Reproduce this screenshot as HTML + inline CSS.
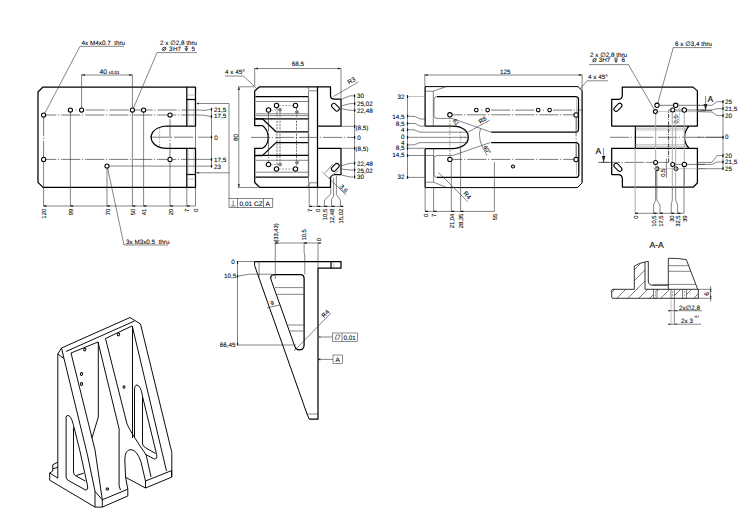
<!DOCTYPE html>
<html><head><meta charset="utf-8"><style>
html,body{margin:0;padding:0;background:#fff;}
svg{display:block;}
text{text-rendering:geometricPrecision;font-family:"Liberation Sans",sans-serif;fill:#000;stroke:#000;stroke-width:0.08;}
.k{stroke:#000;stroke-width:1.25;fill:none;stroke-linejoin:round;}
.t{stroke:#333;stroke-width:0.6;fill:none;}
.c{stroke:#333;stroke-width:0.65;fill:none;stroke-dasharray:19.2 1.6 1.2 2;}
.hd{stroke:#888;stroke-width:0.6;fill:none;stroke-dasharray:2 1.2;}
.h{stroke:#000;stroke-width:1.05;fill:#fff;}
.iso{stroke:#000;stroke-width:0.95;fill:none;stroke-linejoin:round;}
.g{stroke:#777;stroke-width:0.9;fill:none;}
.g3{stroke:#ccc;stroke-width:0.6;fill:none;}
.gk{stroke:#666;stroke-width:1.3;fill:none;}
.hd3{stroke:#777;stroke-width:1.0;fill:none;stroke-dasharray:2.2 1;}
.g4{stroke:#aaa;stroke-width:1.0;fill:none;}
.s9{stroke:#111;stroke-width:0.85;fill:none;}
.s95{stroke:#000;stroke-width:1.0;fill:none;}
.g2{stroke:#999;stroke-width:0.6;fill:none;}
.hd2{stroke:#777;stroke-width:0.7;fill:none;stroke-dasharray:2 1.2;}
.c2{stroke:#111;stroke-width:0.8;fill:none;stroke-dasharray:4 1.2 1 1.2;}
</style></head><body>
<svg width="750" height="531" viewBox="0 0 750 531">
<path d="M43,87 H195.5 V126 H166.3 C161,126.5 155,128.6 152.6,132.4 C150.9,135.3 150.9,139.3 152.6,142.2 C155,146 161,148.2 166.3,148.4 H195.5 V187.4 H43 L38,182.4 V92 Z" class="k"/>
<line x1="186.8" y1="87" x2="186.8" y2="126" class="k"/>
<line x1="186.8" y1="148.4" x2="186.8" y2="187.4" class="k"/>
<line x1="186.8" y1="99.5" x2="195.5" y2="99.5" class="k"/>
<line x1="186.8" y1="174.5" x2="195.5" y2="174.5" class="k"/>
<line x1="186.8" y1="95" x2="195.5" y2="95" class="g2"/>
<line x1="186.8" y1="179" x2="195.5" y2="179" class="g2"/>
<line x1="188.6" y1="100" x2="188.6" y2="126" class="g3"/>
<line x1="188.6" y1="148.4" x2="188.6" y2="174.5" class="g3"/>
<line x1="193.6" y1="100" x2="193.6" y2="126" class="g3"/>
<line x1="193.6" y1="148.4" x2="193.6" y2="174.5" class="g3"/>
<line x1="159.6" y1="128" x2="159.6" y2="146.5" class="hd"/>
<line x1="75.4" y1="110" x2="76.6" y2="110" class="t"/>
<line x1="83.8" y1="110" x2="199" y2="110" class="c" stroke-dashoffset="22.20"/>
<line x1="45.8" y1="115" x2="199" y2="115" class="c" stroke-dashoffset="8.60"/>
<line x1="148" y1="137.2" x2="199" y2="137.2" class="c" stroke-dashoffset="22.00"/>
<line x1="45.8" y1="159.4" x2="199" y2="159.4" class="c" stroke-dashoffset="8.60"/>
<polyline points="199,110 204,110.5 211.5,109.2" class="t"/>
<polyline points="199,115 204,115.3 211.5,116.6" class="t"/>
<line x1="199" y1="137.2" x2="211.5" y2="137.2" class="t"/>
<line x1="199" y1="159.4" x2="211.5" y2="159.4" class="t"/>
<line x1="109" y1="166" x2="211.5" y2="166.2" class="t"/>
<line x1="43.6" y1="117" x2="43.6" y2="157.4" class="c"/>
<line x1="43.6" y1="161.5" x2="43.6" y2="206" class="t"/>
<line x1="70.4" y1="112" x2="70.4" y2="206" class="t"/>
<line x1="107" y1="168" x2="107" y2="206" class="t"/>
<line x1="132.4" y1="112" x2="132.4" y2="206" class="t"/>
<line x1="143.6" y1="112" x2="143.6" y2="206" class="t"/>
<line x1="170" y1="117.2" x2="170" y2="157.2" class="c" stroke-dashoffset="22.20"/>
<line x1="170" y1="161.5" x2="170" y2="206" class="t"/>
<line x1="195.5" y1="126" x2="195.5" y2="148.4" class="t"/>
<line x1="186.8" y1="187.4" x2="186.8" y2="206" class="t"/>
<line x1="195.5" y1="187.4" x2="195.5" y2="206" class="t"/>
<line x1="43.6" y1="206" x2="195.5" y2="206" class="t"/>
<rect x="43.70" y="205.40" width="2.8" height="1.2" fill="#111"/>
<rect x="70.50" y="205.40" width="2.8" height="1.2" fill="#111"/>
<rect x="107.10" y="205.40" width="2.8" height="1.2" fill="#111"/>
<rect x="132.50" y="205.40" width="2.8" height="1.2" fill="#111"/>
<rect x="143.70" y="205.40" width="2.8" height="1.2" fill="#111"/>
<rect x="170.10" y="205.40" width="2.8" height="1.2" fill="#111"/>
<rect x="186.90" y="205.40" width="2.8" height="1.2" fill="#111"/>
<text x="46.216" y="208.8" font-size="5.88" text-anchor="end" stroke-width="0.22" transform="rotate(-90 46.216 208.8)">120</text>
<text x="73.016" y="208.8" font-size="5.88" text-anchor="end" stroke-width="0.22" transform="rotate(-90 73.016 208.8)">99</text>
<text x="109.616" y="208.8" font-size="5.88" text-anchor="end" stroke-width="0.22" transform="rotate(-90 109.616 208.8)">70</text>
<text x="135.016" y="208.8" font-size="5.88" text-anchor="end" stroke-width="0.22" transform="rotate(-90 135.016 208.8)">50</text>
<text x="146.21599999999998" y="208.8" font-size="5.88" text-anchor="end" stroke-width="0.22" transform="rotate(-90 146.21599999999998 208.8)">41</text>
<text x="172.61599999999999" y="208.8" font-size="5.88" text-anchor="end" stroke-width="0.22" transform="rotate(-90 172.61599999999999 208.8)">20</text>
<text x="189.416" y="208.8" font-size="5.88" text-anchor="end" stroke-width="0.22" transform="rotate(-90 189.416 208.8)">7</text>
<text x="198.11599999999999" y="208.8" font-size="5.88" text-anchor="end" stroke-width="0.22" transform="rotate(-90 198.11599999999999 208.8)">0</text>
<line x1="81.6" y1="74.5" x2="81.6" y2="108" class="t"/>
<line x1="132.4" y1="74.5" x2="132.4" y2="108" class="t"/>
<line x1="81.6" y1="75" x2="132.4" y2="75" class="t"/>
<polygon points="81.6,75 84.80,73.90 84.80,76.10" fill="#222"/>
<polygon points="132.4,75 129.20,76.10 129.20,73.90" fill="#222"/>
<text x="99.5" y="73.6" font-size="6.72" text-anchor="start">40</text>
<text x="108.2" y="73.6" font-size="4.51" text-anchor="start">±0,01</text>
<text x="81.6" y="45" font-size="6.30" text-anchor="start">4x M4x0.7&#160;&#160;thru</text>
<line x1="80" y1="46.3" x2="124" y2="46.3" class="t"/>
<line x1="80" y1="46.3" x2="44.8" y2="113.2" class="t"/>
<text x="160" y="44.6" font-size="6.30" text-anchor="start">2 x ∅2,8 thru</text>
<circle cx="164.2" cy="48.8" r="1.65" fill="none" stroke="#000" stroke-width="0.7"/><line x1="162.04999999999998" y1="50.949999999999996" x2="166.35" y2="46.65" stroke="#000" stroke-width="0.6"/>
<text x="168.9" y="51" font-size="6.30" text-anchor="start">3</text>
<text x="173" y="51" font-size="6.30" text-anchor="start">H7</text>
<path d="M184.7,46.7 H188.1 M184.89999999999998,48.0 L186.39999999999998,51 L187.9,48.0 M186.39999999999998,46.7 V51" stroke="#000" stroke-width="0.65" fill="none"/>
<text x="191.4" y="51" font-size="6.30" text-anchor="start">5</text>
<line x1="157" y1="52.6" x2="197" y2="52.6" class="t"/>
<line x1="157" y1="52.6" x2="133.4" y2="108.2" class="t"/>
<text x="126" y="243.6" font-size="6.30" text-anchor="start">3x M3x0.5&#160;&#160;thru</text>
<line x1="124" y1="245" x2="168" y2="245" class="t"/>
<line x1="124" y1="245" x2="107.6" y2="168" class="t"/>
<line x1="211.5" y1="109" x2="211.5" y2="166.5" class="t"/>
<rect x="210.90" y="107.80" width="1.2" height="2.8" fill="#111"/>
<rect x="210.90" y="115.20" width="1.2" height="2.8" fill="#111"/>
<rect x="210.90" y="135.80" width="1.2" height="2.8" fill="#111"/>
<rect x="210.90" y="158.00" width="1.2" height="2.8" fill="#111"/>
<rect x="210.90" y="164.80" width="1.2" height="2.8" fill="#111"/>
<text x="214" y="111.8" font-size="6.30" text-anchor="start">21,5</text>
<text x="214" y="118.4" font-size="6.30" text-anchor="start">17,5</text>
<text x="214.2" y="139.6" font-size="6.30" text-anchor="start">0</text>
<text x="214" y="161.6" font-size="6.30" text-anchor="start">17,5</text>
<text x="214" y="168.6" font-size="6.30" text-anchor="start">23</text>
<line x1="198" y1="103.5" x2="229" y2="103.5" class="t"/>
<line x1="198" y1="172.8" x2="229" y2="172.8" class="t"/>
<line x1="229" y1="103.5" x2="229" y2="198.5" class="t"/>
<polygon points="196.2,103.5 198.80,102.50 198.80,104.50" fill="#222"/>
<polygon points="196.2,172.8 198.80,171.80 198.80,173.80" fill="#222"/>
<path d="M254.7,91 L259.5,86.8 H330.5 V96 Q330.5,99 334.5,99 H341 V126 H317.5 M317.5,148.3 H341 V174.5 H335 Q330.5,175 330.5,179 V187.3 H259.5 L254.7,182.5 V156 Q254.7,155.6 255.5,155.6 H262.4 L276,142.6 H308.5 M254.7,156 V148.3 H262.4 C266.5,146 268.2,142 268.2,137.4 C268.2,132.8 266.5,128.5 262.4,125.5 H254.7 V118.8 H262.4 L276,131.8 H308.5 M254.7,118.8 V91" class="k"/>
<line x1="317.5" y1="86.8" x2="317.5" y2="187.3" class="k"/>
<line x1="255.5" y1="96.5" x2="308.5" y2="96.5" class="k"/>
<line x1="255.5" y1="177.2" x2="308.5" y2="177.2" class="k"/>
<line x1="308.5" y1="96.5" x2="308.5" y2="177.2" class="gk"/>
<line x1="255.5" y1="118.8" x2="308.5" y2="118.8" class="k"/>
<line x1="255.5" y1="155.4" x2="308.5" y2="155.4" class="k"/>
<path d="M307.6,86.8 L309.2,90.8 H317" class="t"/>
<path d="M307.6,187.3 L309.4,182.8 H317" class="t"/>
<line x1="308.5" y1="91" x2="308.5" y2="96.5" class="g"/>
<line x1="308.5" y1="177.2" x2="308.5" y2="182.8" class="g"/>
<line x1="256" y1="101.5" x2="308.5" y2="101.5" class="t"/>
<line x1="256" y1="115.6" x2="308.5" y2="115.6" class="t"/>
<line x1="256" y1="160.3" x2="308.5" y2="160.3" class="t"/>
<line x1="256" y1="172.2" x2="308.5" y2="172.2" class="t"/>
<line x1="256" y1="113.8" x2="308.5" y2="113.8" class="g"/>
<circle cx="280" cy="109.7" r="1.5" fill="#999" stroke="#333" stroke-width="0.5"/>
<circle cx="297" cy="112" r="1.5" fill="#999" stroke="#333" stroke-width="0.5"/>
<circle cx="280" cy="164.5" r="1.5" fill="#999" stroke="#333" stroke-width="0.5"/>
<circle cx="297" cy="162.5" r="1.5" fill="#999" stroke="#333" stroke-width="0.5"/>
<line x1="278.7" y1="105.5" x2="293.3" y2="105.5" class="hd2"/>
<line x1="278.7" y1="169" x2="293.3" y2="169" class="hd2"/>
<line x1="270.7" y1="110" x2="278.5" y2="110" class="hd2"/>
<line x1="270.7" y1="164.5" x2="278.5" y2="164.5" class="hd2"/>
<line x1="277" y1="108" x2="277" y2="166" class="hd3"/>
<line x1="280" y1="108" x2="280" y2="166" class="hd3"/>
<line x1="296.5" y1="108" x2="296.5" y2="166" class="hd3"/>
<line x1="268.5" y1="112.2" x2="268.5" y2="162.3" class="c"/>
<line x1="251" y1="137.4" x2="354.6" y2="137.4" class="c"/>
<line x1="254.7" y1="68.2" x2="254.7" y2="86" class="t"/>
<line x1="341" y1="68.2" x2="341" y2="98" class="t"/>
<line x1="254.7" y1="68.5" x2="341" y2="68.5" class="t"/>
<polygon points="254.7,68.5 257.90,67.40 257.90,69.60" fill="#222"/>
<polygon points="341,68.5 337.80,69.60 337.80,67.40" fill="#222"/>
<text x="297.8" y="66.4" font-size="6.30" text-anchor="middle">68,5</text>
<text x="225" y="74.4" font-size="6.30" text-anchor="start">4 x 45°</text>
<line x1="225" y1="76" x2="243.4" y2="76" class="t"/>
<line x1="243.4" y1="76" x2="256.8" y2="88.6" class="t"/>
<line x1="238.2" y1="86.8" x2="254" y2="86.8" class="t"/>
<line x1="238.2" y1="187.5" x2="258" y2="187.5" class="t"/>
<line x1="238.8" y1="86.8" x2="238.8" y2="187.5" class="t"/>
<polygon points="238.8,86.8 239.90,90.00 237.70,90.00" fill="#222"/>
<polygon points="238.8,187.5 237.70,184.30 239.90,184.30" fill="#222"/>
<text x="238" y="137.4" font-size="6.30" text-anchor="middle" transform="rotate(-90 238 137.4)">80</text>
<line x1="333.5" y1="96.5" x2="358.5" y2="82" class="t"/>
<text x="349" y="84.5" font-size="6.30" transform="rotate(-30 349 84.5)">R3</text>
<line x1="354.6" y1="96" x2="354.6" y2="177" class="t"/>
<polyline points="341,99.5 350,95.8 354.6,95.8" class="t"/>
<polyline points="341,106 350,103.6 354.6,103.6" class="t"/>
<polyline points="341,108.6 350,110.3 354.6,110.3" class="t"/>
<polyline points="341,166 350,163.2 354.6,163.2" class="t"/>
<polyline points="341.5,169 350,170 354.6,170" class="t"/>
<polyline points="341.5,175 350,177 354.6,177" class="t"/>
<line x1="341" y1="126.3" x2="354.6" y2="126.3" class="t"/>
<line x1="341" y1="148.3" x2="354.6" y2="148.3" class="t"/>
<rect x="354.00" y="94.40" width="1.2" height="2.8" fill="#111"/>
<rect x="354.00" y="102.20" width="1.2" height="2.8" fill="#111"/>
<rect x="354.00" y="108.90" width="1.2" height="2.8" fill="#111"/>
<rect x="354.00" y="124.90" width="1.2" height="2.8" fill="#111"/>
<rect x="354.00" y="136.00" width="1.2" height="2.8" fill="#111"/>
<rect x="354.00" y="146.90" width="1.2" height="2.8" fill="#111"/>
<rect x="354.00" y="161.80" width="1.2" height="2.8" fill="#111"/>
<rect x="354.00" y="168.60" width="1.2" height="2.8" fill="#111"/>
<rect x="354.00" y="175.60" width="1.2" height="2.8" fill="#111"/>
<text x="357" y="98.4" font-size="6.30" text-anchor="start">30</text>
<text x="357" y="106" font-size="6.30" text-anchor="start">25,02</text>
<text x="357" y="112.8" font-size="6.30" text-anchor="start">22,48</text>
<text x="355.5" y="129.8" font-size="6.30" text-anchor="start">(8,5)</text>
<text x="357.2" y="139.6" font-size="6.30" text-anchor="start">0</text>
<text x="355.5" y="150.6" font-size="6.30" text-anchor="start">(8,5)</text>
<text x="357" y="165.8" font-size="6.30" text-anchor="start">22,48</text>
<text x="357" y="172.8" font-size="6.30" text-anchor="start">25,02</text>
<text x="357" y="179.4" font-size="6.30" text-anchor="start">30</text>
<rect x="330.9" y="104.9" width="9" height="4.6" rx="2.3" class="h" transform="rotate(45 335.4 107.2)"/>
<rect x="330.8" y="165.1" width="9" height="4.6" rx="2.3" class="h" transform="rotate(-45 335.3 167.4)"/>
<line x1="322.4" y1="172" x2="346" y2="194.8" class="t"/>
<line x1="332.8" y1="164.2" x2="325.2" y2="172.6" class="g"/>
<line x1="338.4" y1="170.6" x2="328.8" y2="178" class="g"/>
<text x="339" y="187" font-size="6.30" transform="rotate(45 339 187)">3,6</text>
<line x1="309.2" y1="182.8" x2="309.2" y2="206.4" class="t"/>
<line x1="317.4" y1="187.3" x2="317.4" y2="206.4" class="t"/>
<polyline points="330.8,187.3 330.8,193.8 324.4,200.2 324.4,206.4" class="t"/>
<polyline points="333.6,178 333.6,196.2 331.6,199.4 331.6,206.4" class="t"/>
<polyline points="336.4,176 336.4,194.6 340.4,200.2 340.4,206.4" class="t"/>
<line x1="309.2" y1="206.4" x2="340.8" y2="206.4" class="t"/>
<rect x="309.30" y="205.80" width="2.8" height="1.2" fill="#111"/>
<rect x="317.50" y="205.80" width="2.8" height="1.2" fill="#111"/>
<rect x="324.50" y="205.80" width="2.8" height="1.2" fill="#111"/>
<rect x="331.70" y="205.80" width="2.8" height="1.2" fill="#111"/>
<rect x="340.50" y="205.80" width="2.8" height="1.2" fill="#111"/>
<text x="311.81600000000003" y="208.8" font-size="5.88" text-anchor="end" stroke-width="0.22" transform="rotate(-90 311.81600000000003 208.8)">7</text>
<text x="320.016" y="208.8" font-size="5.88" text-anchor="end" stroke-width="0.22" transform="rotate(-90 320.016 208.8)">0</text>
<text x="327.016" y="208.8" font-size="5.88" text-anchor="end" stroke-width="0.22" transform="rotate(-90 327.016 208.8)">10,5</text>
<text x="334.21600000000007" y="208.8" font-size="5.88" text-anchor="end" stroke-width="0.22" transform="rotate(-90 334.21600000000007 208.8)">12,48</text>
<text x="343.016" y="208.8" font-size="5.88" text-anchor="end" stroke-width="0.22" transform="rotate(-90 343.016 208.8)">15,02</text>
<rect x="229" y="198.5" width="43.8" height="9" fill="none" stroke="#333" stroke-width="0.6"/>
<line x1="237.5" y1="198.5" x2="237.5" y2="207.5" class="t"/>
<line x1="263.5" y1="198.5" x2="263.5" y2="207.5" class="t"/>
<line x1="233.2" y1="200.5" x2="233.2" y2="206" class="t"/>
<line x1="230.8" y1="206" x2="235.6" y2="206" class="t"/>
<text x="239.5" y="205.6" font-size="6.51" text-anchor="start">0,01 CZ</text>
<text x="265.6" y="205.6" font-size="6.51" text-anchor="start">A</text>
<path d="M425.1,126.1 V86.6" class="k"/>
<path d="M425.1,86.6 H578 L582.1,90.6" class="s95"/>
<path d="M582.1,90.6 V182.8" class="k"/>
<path d="M582.1,182.8 L577.5,187.6 H425.1" class="s95"/>
<path d="M425.1,187.6 V148.5" class="k"/>
<path d="M425.1,91.2 H433.3 L446.1,86.6" class="t"/>
<line x1="433.3" y1="91.2" x2="433.3" y2="126.1" class="t"/>
<path d="M425.1,182.2 H433.6 L446.8,187.6" class="t"/>
<line x1="433.6" y1="148.5" x2="433.6" y2="182.2" class="t"/>
<path d="M437,96.5 H575.5 Q578.5,96.5 578.5,99.5 V129 Q578.5,132.2 575.5,132.2 H491.2" class="k"/>
<path d="M491.2,142.6 H575.5 Q578.8,142.6 578.8,145.6 V174.4 Q578.8,177.4 575.5,177.4 H437" class="k"/>
<path d="M437,96.5 Q434,96.5 434,99.5 V115.6 Q434,118.4 437,118.4 H452 L491.2,132.2" class="t"/>
<path d="M437,177.4 Q434,177.4 434,174.4 V158.4 Q434,155.5 437,155.5 H453 L490,142.6" class="t"/>
<line x1="576.5" y1="99" x2="576.5" y2="129.6" class="g2"/>
<line x1="576.5" y1="145" x2="576.5" y2="175" class="g2"/>
<path d="M425.1,126.1 H453 C462,126.1 468.3,131 468.3,137.3 C468.3,143.6 462,148.5 452.3,148.5 H425.1" class="k"/>
<line x1="460.3" y1="131.5" x2="460.3" y2="155.5" class="hd"/>
<line x1="460.3" y1="137.3" x2="468" y2="137.3" class="hd"/>
<line x1="481.2" y1="110.1" x2="482.6" y2="110.1" class="t"/>
<line x1="542.8" y1="110.1" x2="544" y2="110.1" class="t"/>
<line x1="489.8" y1="110.1" x2="535.8" y2="110.1" class="c" stroke-dashoffset="22.60"/>
<line x1="551.8" y1="110.1" x2="582" y2="110.1" class="c" stroke-dashoffset="22.80"/>
<line x1="452.1" y1="114.8" x2="573.9" y2="114.8" class="c" stroke-dashoffset="8.90"/>
<line x1="452.1" y1="159.4" x2="573.9" y2="159.4" class="c" stroke-dashoffset="8.90"/>
<line x1="576.1" y1="117.2" x2="576.1" y2="157.3" class="c"/>
<line x1="449.9" y1="117" x2="449.9" y2="136" class="hd2"/>
<line x1="449.9" y1="137" x2="449.9" y2="157.2" class="hd2"/>
<line x1="451.3" y1="161.5" x2="451.3" y2="211.4" class="t"/>
<line x1="460.6" y1="148.5" x2="460.6" y2="211.4" class="t"/>
<line x1="494.4" y1="162" x2="494.4" y2="211.4" class="t"/>
<line x1="425.1" y1="187.6" x2="425.1" y2="211.4" class="t"/>
<line x1="433.6" y1="187.6" x2="433.6" y2="211.4" class="t"/>
<line x1="425.1" y1="211.4" x2="494.4" y2="211.4" class="t"/>
<rect x="425.20" y="210.80" width="2.8" height="1.2" fill="#111"/>
<rect x="433.70" y="210.80" width="2.8" height="1.2" fill="#111"/>
<rect x="451.40" y="210.80" width="2.8" height="1.2" fill="#111"/>
<rect x="460.70" y="210.80" width="2.8" height="1.2" fill="#111"/>
<text x="427.71600000000007" y="213.6" font-size="5.88" text-anchor="end" stroke-width="0.22" transform="rotate(-90 427.71600000000007 213.6)">0</text>
<text x="436.21600000000007" y="213.6" font-size="5.88" text-anchor="end" stroke-width="0.22" transform="rotate(-90 436.21600000000007 213.6)">7</text>
<text x="453.91600000000005" y="213.6" font-size="5.88" text-anchor="end" stroke-width="0.22" transform="rotate(-90 453.91600000000005 213.6)">21,04</text>
<text x="463.21600000000007" y="213.6" font-size="5.88" text-anchor="end" stroke-width="0.22" transform="rotate(-90 463.21600000000007 213.6)">28,35</text>
<text x="497.016" y="213.6" font-size="5.88" text-anchor="end" stroke-width="0.22" transform="rotate(-90 497.016 213.6)">55</text>
<line x1="468.3" y1="132" x2="489.6" y2="120.3" class="t"/>
<text x="480.5" y="124" font-size="6.30" transform="rotate(-35 480.5 124)">R8</text>
<text x="452.5" y="120.5" font-size="5.88" transform="rotate(55 452.5 120.5)">61</text>
<path d="M480.5,128.3 Q476.5,139 487,155.5" class="t"/>
<text x="483" y="147" font-size="5.88" transform="rotate(58 483 147)">40°</text>
<line x1="438.4" y1="172.4" x2="467.8" y2="201.8" class="t"/>
<text x="463" y="193.5" font-size="6.30" transform="rotate(50 463 193.5)">R4</text>
<line x1="424.8" y1="74.6" x2="424.8" y2="86" class="t"/>
<line x1="582.1" y1="74.6" x2="582.1" y2="90" class="t"/>
<line x1="424.5" y1="75" x2="582.1" y2="75" class="t"/>
<polygon points="424.5,75 427.70,73.90 427.70,76.10" fill="#222"/>
<polygon points="582.1,75 578.90,76.10 578.90,73.90" fill="#222"/>
<text x="505.2" y="73.6" font-size="6.30" text-anchor="middle">125</text>
<text x="588" y="79.4" font-size="6.30" text-anchor="start">4 x 45°</text>
<line x1="587" y1="80.8" x2="608" y2="80.8" class="t"/>
<line x1="587" y1="80.8" x2="580.2" y2="89" class="t"/>
<line x1="407.5" y1="96.5" x2="407.5" y2="177.4" class="t"/>
<line x1="407.5" y1="96.5" x2="424.5" y2="96.5" class="g2"/>
<line x1="407.5" y1="177.4" x2="424.5" y2="177.4" class="t"/>
<polyline points="407.5,116.2 415,116.5 420,119 425,119" class="t"/>
<polyline points="407.5,123.5 415,123.5 420,126.2 425,126.2" class="t"/>
<polyline points="407.5,129.8 414,129.8 420,132.2 468,132.2" class="t"/>
<line x1="407.5" y1="137.3" x2="468" y2="137.3" class="t"/>
<polyline points="407.5,145 414,144.8 420,142.6 468,142.6" class="t"/>
<line x1="407.5" y1="148.3" x2="424.5" y2="148.3" class="g"/>
<line x1="407.5" y1="155.5" x2="434" y2="155.5" class="t"/>
<rect x="406.90" y="95.10" width="1.2" height="2.8" fill="#111"/>
<rect x="406.90" y="114.80" width="1.2" height="2.8" fill="#111"/>
<rect x="406.90" y="122.10" width="1.2" height="2.8" fill="#111"/>
<rect x="406.90" y="128.40" width="1.2" height="2.8" fill="#111"/>
<rect x="406.90" y="135.90" width="1.2" height="2.8" fill="#111"/>
<rect x="406.90" y="143.60" width="1.2" height="2.8" fill="#111"/>
<rect x="406.90" y="146.90" width="1.2" height="2.8" fill="#111"/>
<rect x="406.90" y="154.10" width="1.2" height="2.8" fill="#111"/>
<rect x="406.90" y="176.00" width="1.2" height="2.8" fill="#111"/>
<text x="404.6" y="99.2" font-size="6.30" text-anchor="end">32</text>
<text x="404.6" y="118.6" font-size="6.30" text-anchor="end">14,5</text>
<text x="404.6" y="125.8" font-size="6.30" text-anchor="end">8,5</text>
<text x="404.6" y="132" font-size="6.30" text-anchor="end">4</text>
<text x="404.6" y="139.3" font-size="6.30" text-anchor="end">0</text>
<text x="404.6" y="145" font-size="6.30" text-anchor="end">4</text>
<text x="404.6" y="150" font-size="6.30" text-anchor="end">8,5</text>
<text x="404.6" y="157.4" font-size="6.30" text-anchor="end">14,5</text>
<text x="404.6" y="179.4" font-size="6.30" text-anchor="end">32</text>
<path d="M622.3,87.1 H693 L697.4,90.9 V126 H611.7 V99.3 H618.5 Q622.3,99.3 622.3,95.3 Z" class="k"/>
<path d="M635.4,126 V148.3 M689,126 Q684.5,131 684.5,137.3 Q684.5,143.5 689,148.3" class="k"/>
<path d="M611.7,148.3 H697.4 V183 L693.4,187 H622.4 V179 Q622.4,174.5 618,174.5 H611.7 Z" class="k"/>
<line x1="635.4" y1="130" x2="686" y2="130" class="g2"/>
<line x1="635.4" y1="144.7" x2="686" y2="144.7" class="g2"/>
<line x1="635.4" y1="128.2" x2="687" y2="128.2" class="g2"/>
<line x1="635.4" y1="146.3" x2="687" y2="146.3" class="g2"/>
<line x1="610" y1="137.3" x2="723" y2="137.3" class="c"/>
<rect x="613.2" y="105.1" width="9.5" height="4.4" rx="2.2" class="h" transform="rotate(-45 617.9 107.3)"/>
<rect x="613.2" y="165.1" width="9.5" height="4.4" rx="2.2" class="h" transform="rotate(45 617.9 167.3)"/>
<line x1="659.5" y1="105.3" x2="673.3" y2="105.3" class="c"/>
<line x1="678" y1="105.3" x2="705" y2="105.3" class="c"/>
<line x1="657.6" y1="111.6" x2="705" y2="111.6" class="g2"/>
<line x1="675" y1="110" x2="682" y2="110" class="c"/>
<line x1="686.5" y1="110" x2="705" y2="110" class="c"/>
<line x1="600.7" y1="162.4" x2="647" y2="162.4" class="c"/>
<line x1="647" y1="162.4" x2="668.6" y2="162.4" class="t"/>
<line x1="668.6" y1="162.4" x2="668.6" y2="110" class="c2"/>
<line x1="668.6" y1="110" x2="670.7" y2="110" class="t"/>
<circle cx="657" cy="168.7" r="2" fill="#aaa" stroke="#000" stroke-width="1"/>
<circle cx="676" cy="168.7" r="2" fill="#aaa" stroke="#000" stroke-width="1"/>
<line x1="675" y1="164.4" x2="682" y2="164.4" class="c"/>
<line x1="686.6" y1="164.4" x2="705" y2="164.4" class="c"/>
<line x1="659" y1="168.7" x2="705" y2="168.7" class="g2"/>
<line x1="672.2" y1="107.5" x2="672.2" y2="123.8" class="hd"/>
<line x1="679.4" y1="107" x2="679.4" y2="123.8" class="hd"/>
<text x="678.4" y="123.4" font-size="5.88" stroke-width="0.2" transform="rotate(-90 678.4 123.4)">0,5</text>
<text x="665.4" y="176.8" font-size="5.88" stroke-width="0.2" transform="rotate(-90 665.4 176.8)">0,5</text>
<line x1="666.4" y1="158.8" x2="666.4" y2="178" class="t"/>
<line x1="635.1" y1="148.3" x2="635.1" y2="213.3" class="g4"/>
<line x1="655.7" y1="113" x2="655.7" y2="187" class="g4"/>
<line x1="672.3" y1="113" x2="672.3" y2="187" class="g4"/>
<line x1="675.7" y1="113" x2="675.7" y2="187" class="g4"/>
<line x1="684.3" y1="113" x2="684.3" y2="187" class="g4"/>
<line x1="684" y1="166.6" x2="684" y2="213.3" class="t"/>
<polyline points="655.6,170.8 655.6,200 653.6,205 653.6,213.3" class="t"/>
<polyline points="656.8,170.8 656.8,200 660,205 660,213.3" class="t"/>
<polyline points="672.3,187 672.3,200 671.2,205 671.2,213.3" class="t"/>
<polyline points="675.7,187 675.7,200 677.6,205 677.6,213.3" class="t"/>
<line x1="635.1" y1="213.3" x2="684" y2="213.3" class="t"/>
<rect x="635.20" y="212.70" width="2.8" height="1.2" fill="#111"/>
<rect x="653.70" y="212.70" width="2.8" height="1.2" fill="#111"/>
<rect x="660.10" y="212.70" width="2.8" height="1.2" fill="#111"/>
<rect x="671.30" y="212.70" width="2.8" height="1.2" fill="#111"/>
<rect x="677.70" y="212.70" width="2.8" height="1.2" fill="#111"/>
<text x="637.716" y="215.4" font-size="5.88" text-anchor="end" stroke-width="0.22" transform="rotate(-90 637.716 215.4)">0</text>
<text x="656.216" y="215.4" font-size="5.88" text-anchor="end" stroke-width="0.22" transform="rotate(-90 656.216 215.4)">10,5</text>
<text x="662.616" y="215.4" font-size="5.88" text-anchor="end" stroke-width="0.22" transform="rotate(-90 662.616 215.4)">17,5</text>
<text x="673.816" y="215.4" font-size="5.88" text-anchor="end" stroke-width="0.22" transform="rotate(-90 673.816 215.4)">30</text>
<text x="680.216" y="215.4" font-size="5.88" text-anchor="end" stroke-width="0.22" transform="rotate(-90 680.216 215.4)">32,5</text>
<text x="686.616" y="215.4" font-size="5.88" text-anchor="end" stroke-width="0.22" transform="rotate(-90 686.616 215.4)">39</text>
<text x="649.4" y="247.6" font-size="8.61" text-anchor="start">A-A</text>
<text x="675" y="46" font-size="6.30" text-anchor="start">6 x ∅3,4 thru</text>
<line x1="673" y1="47.6" x2="711.6" y2="47.6" class="t"/>
<line x1="673.3" y1="47.6" x2="657.8" y2="103.2" class="t"/>
<text x="590" y="57" font-size="6.30" text-anchor="start">2 x ∅2,8 thru</text>
<circle cx="594.5" cy="60.2" r="1.65" fill="none" stroke="#000" stroke-width="0.7"/><line x1="592.35" y1="62.35" x2="596.65" y2="58.050000000000004" stroke="#000" stroke-width="0.6"/>
<text x="598.8" y="62.4" font-size="6.30" text-anchor="start">3H7</text>
<path d="M614.3,58.1 H617.6999999999999 M614.5,59.4 L616.0,62.4 L617.4999999999999,59.4 M616.0,58.1 V62.4" stroke="#000" stroke-width="0.65" fill="none"/>
<text x="621.4" y="62.4" font-size="6.30" text-anchor="start">6</text>
<line x1="589" y1="64.6" x2="628.4" y2="64.6" class="t"/>
<line x1="628.4" y1="64.6" x2="654.3" y2="109.6" class="t"/>
<line x1="705.6" y1="96" x2="705.6" y2="110.5" class="t"/>
<polygon points="705.6,110.5 703.80,104.00 707.40,104.00" fill="#222"/>
<text x="707.4" y="102" font-size="8.61" text-anchor="start">A</text>
<line x1="701" y1="110.5" x2="712" y2="110.5" class="t"/>
<line x1="603.6" y1="148" x2="603.6" y2="162.4" class="t"/>
<polygon points="603.6,162.4 601.80,155.90 605.40,155.90" fill="#222"/>
<text x="595.6" y="154.2" font-size="8.61" text-anchor="start">A</text>
<line x1="598" y1="162.4" x2="609" y2="162.4" class="t"/>
<line x1="723" y1="101" x2="723" y2="169" class="t"/>
<polyline points="697.4,105.3 712,105.3 717,101.6 723,101.6" class="t"/>
<polyline points="697.4,110 712,110 717,108.6 723,108.6" class="t"/>
<polyline points="697.4,111.6 712,112 717,115.6 723,115.6" class="t"/>
<line x1="697.4" y1="137.3" x2="723" y2="137.3" class="t"/>
<polyline points="697.4,162.4 712,162.4 717,155.6 723,155.6" class="t"/>
<polyline points="697.4,164.4 712,164.4 717,162 723,162" class="t"/>
<polyline points="697.4,168.7 723,168.7" class="t"/>
<rect x="722.40" y="100.20" width="1.2" height="2.8" fill="#111"/>
<rect x="722.40" y="107.20" width="1.2" height="2.8" fill="#111"/>
<rect x="722.40" y="114.20" width="1.2" height="2.8" fill="#111"/>
<rect x="722.40" y="135.90" width="1.2" height="2.8" fill="#111"/>
<rect x="722.40" y="154.20" width="1.2" height="2.8" fill="#111"/>
<rect x="722.40" y="160.60" width="1.2" height="2.8" fill="#111"/>
<rect x="722.40" y="167.30" width="1.2" height="2.8" fill="#111"/>
<text x="725" y="104" font-size="6.30" text-anchor="start">25</text>
<text x="725" y="111" font-size="6.30" text-anchor="start">21,5</text>
<text x="725" y="118" font-size="6.30" text-anchor="start">20</text>
<text x="725" y="139.4" font-size="6.30" text-anchor="start">0</text>
<text x="725" y="158" font-size="6.30" text-anchor="start">20</text>
<text x="725" y="164.2" font-size="6.30" text-anchor="start">21,5</text>
<text x="725" y="171" font-size="6.30" text-anchor="start">25</text>
<defs><clipPath id="hc"><path d="M613,289.3 H698.3 V298.3 H613 Q611.7,298.3 611.7,297 V290.6 Q611.7,289.3 613,289.3 Z M634.3,289.3 V266 L645,262 V289.3 Z"/></clipPath></defs>
<g clip-path="url(#hc)" stroke="#222" stroke-width="0.6"><line x1="538" y1="300" x2="578" y2="260"/><line x1="549" y1="300" x2="589" y2="260"/><line x1="560" y1="300" x2="600" y2="260"/><line x1="571" y1="300" x2="611" y2="260"/><line x1="582" y1="300" x2="622" y2="260"/><line x1="593" y1="300" x2="633" y2="260"/><line x1="604" y1="300" x2="644" y2="260"/><line x1="615" y1="300" x2="655" y2="260"/><line x1="626" y1="300" x2="666" y2="260"/><line x1="637" y1="300" x2="677" y2="260"/><line x1="648" y1="300" x2="688" y2="260"/><line x1="659" y1="300" x2="699" y2="260"/><line x1="670" y1="300" x2="710" y2="260"/><line x1="681" y1="300" x2="721" y2="260"/><line x1="692" y1="300" x2="732" y2="260"/><line x1="703" y1="300" x2="743" y2="260"/><line x1="714" y1="300" x2="754" y2="260"/><line x1="725" y1="300" x2="765" y2="260"/><line x1="736" y1="300" x2="776" y2="260"/><line x1="747" y1="300" x2="787" y2="260"/><line x1="758" y1="300" x2="798" y2="260"/><line x1="769" y1="300" x2="809" y2="260"/></g>
<path d="M613,289.3 H634.3 V266 Q639,263 645,262 V289.3 H698.3 V298.3 H613 Q611.7,298.3 611.7,297 V290.6 Q611.7,289.3 613,289.3 Z" class="s9"/>
<path d="M645,262 L648.3,261.3 V281 Q648.3,285.3 653,285.3 H668.3" class="s9"/>
<line x1="653" y1="284.4" x2="668.3" y2="284.4" class="t"/>
<path d="M668.3,289.3 V258.3 Q678,258 686.3,259.6 L697.7,289.3" class="s9"/>
<line x1="668.5" y1="265.7" x2="688.8" y2="265.7" class="t"/>
<line x1="668.5" y1="271.3" x2="691" y2="271.3" class="t"/>
<line x1="668.5" y1="284.4" x2="696" y2="284.4" class="t"/>
<rect x="653.7" y="289.6" width="3.2999999999999545" height="8.4" fill="#fff" stroke="#222" stroke-width="0.55"/>
<line x1="655.35" y1="291" x2="655.35" y2="297" class="hd2"/>
<rect x="671" y="289.6" width="3.2999999999999545" height="8.4" fill="#fff" stroke="#222" stroke-width="0.55"/>
<line x1="672.65" y1="291" x2="672.65" y2="297" class="hd2"/>
<rect x="682.3" y="289.6" width="4.0" height="8.4" fill="#fff" stroke="#222" stroke-width="0.55"/>
<line x1="684.3" y1="291" x2="684.3" y2="297" class="hd2"/>
<line x1="698.3" y1="289.3" x2="712" y2="289.3" class="t"/>
<line x1="698.3" y1="298.3" x2="712" y2="298.3" class="t"/>
<line x1="710.6" y1="286" x2="710.6" y2="301.5" class="t"/>
<polygon points="710.6,289.3 711.50,291.80 709.70,291.80" fill="#222"/>
<polygon points="710.6,298.3 709.70,295.80 711.50,295.80" fill="#222"/>
<text x="709.4" y="293.8" font-size="6.72" text-anchor="middle" stroke-width="0.2" transform="rotate(-90 709.4 293.8)">6</text>
<line x1="671" y1="298.3" x2="671" y2="324.2" class="g2"/>
<line x1="674.3" y1="298.3" x2="674.3" y2="324.2" class="t"/>
<line x1="668" y1="310.7" x2="702" y2="310.7" class="t"/>
<line x1="668" y1="324.2" x2="701" y2="324.2" class="t"/>
<polygon points="671,310.7 668.60,311.50 668.60,309.90" fill="#222"/>
<polygon points="674.3,310.7 676.70,309.90 676.70,311.50" fill="#222"/>
<polygon points="671,324.2 668.60,325.00 668.60,323.40" fill="#222"/>
<polygon points="674.3,324.2 676.70,323.40 676.70,325.00" fill="#222"/>
<text x="679" y="309.8" font-size="6.30" text-anchor="start">2x∅2,8</text>
<text x="681" y="323" font-size="6.30" text-anchor="start">2x 3</text>
<text x="694.6" y="318.4" font-size="3.57" text-anchor="start">H7</text>
<path d="M254.6,261.5 H341 V268.2 H318 V419 H309.2" class="k"/>
<path d="M309.2,419 L307,414 L254.6,265.5 V261.5" class="s95"/>
<line x1="331" y1="261.5" x2="331" y2="268.2" class="k"/>
<line x1="333.8" y1="262.5" x2="333.8" y2="267.3" class="g2"/>
<line x1="259.1" y1="261.5" x2="259.1" y2="277" class="t"/>
<path d="M270.8,279 Q270,274.5 275,274.5 H300.5 Q304.1,274.5 304.1,278.5 V345 Q304.1,350 299,349.8 Q296,349.6 295,347" class="k"/>
<path d="M295,347 L270.8,279" class="s95"/>
<line x1="275" y1="287.6" x2="304.1" y2="287.6" class="g"/>
<line x1="276.5" y1="294.3" x2="304.1" y2="294.3" class="t"/>
<line x1="288" y1="325" x2="304.1" y2="325" class="t"/>
<line x1="289.5" y1="331" x2="304.1" y2="331" class="g"/>
<line x1="307" y1="414" x2="318" y2="414" class="t"/>
<line x1="237.5" y1="261.5" x2="254.6" y2="261.5" class="t"/>
<line x1="237.5" y1="261.5" x2="237.5" y2="345" class="t"/>
<text x="234.8" y="263.8" font-size="6.30" text-anchor="end">0</text>
<polyline points="237.5,276.3 249,274.2 272,274.2" class="t"/>
<text x="236.2" y="278" font-size="6.30" text-anchor="end">10,5</text>
<line x1="237.5" y1="345" x2="296" y2="345" class="t"/>
<text x="235.4" y="347.2" font-size="6.30" text-anchor="end">66,45</text>
<rect x="236.90" y="261.10" width="1.2" height="2.8" fill="#111"/>
<rect x="236.90" y="274.90" width="1.2" height="2.8" fill="#111"/>
<rect x="236.90" y="342.60" width="1.2" height="2.8" fill="#111"/>
<line x1="274.4" y1="243" x2="318" y2="243" class="t"/>
<line x1="275.3" y1="243" x2="275.3" y2="279" class="t"/>
<polyline points="304.1,243 304.1,252 304.8,256 304.8,274.5" class="t"/>
<line x1="318" y1="243" x2="318" y2="268.2" class="t"/>
<rect x="275.40" y="242.40" width="2.8" height="1.2" fill="#111"/>
<rect x="304.20" y="242.40" width="2.8" height="1.2" fill="#111"/>
<rect x="318.10" y="242.40" width="2.8" height="1.2" fill="#111"/>
<text x="278.016" y="241.8" font-size="5.88" text-anchor="start" stroke-width="0.22" transform="rotate(-90 278.016 241.8)">(33,43)</text>
<text x="306.21600000000007" y="240.6" font-size="5.88" text-anchor="start" stroke-width="0.22" transform="rotate(-90 306.21600000000007 240.6)">10,5</text>
<text x="320.81600000000003" y="241.2" font-size="5.88" text-anchor="start" stroke-width="0.22" transform="rotate(-90 320.81600000000003 241.2)">0</text>
<line x1="267" y1="307.8" x2="279.8" y2="305" class="t"/>
<text x="271" y="305.6" font-size="5.88" transform="rotate(-14 271 305.6)">9</text>
<line x1="294" y1="351" x2="331" y2="313" class="t"/>
<text x="324" y="318" font-size="6.30" transform="rotate(-45 324 318)">R4</text>
<rect x="332.4" y="333" width="25.2" height="8.4" fill="none" stroke="#444" stroke-width="0.6"/>
<line x1="342" y1="333" x2="342" y2="341.4" class="t"/>
<path d="M335,339.2 L336.6,335 H340 L338.4,339.2 Z" class="t"/>
<text x="343.6" y="339.6" font-size="6.30" text-anchor="start">0,01</text>
<line x1="319.6" y1="337" x2="332.4" y2="337" class="g"/>
<rect x="319.2" y="336.4" width="1.2" height="1.2" fill="#222"/>
<rect x="333" y="355" width="9.4" height="8.6" fill="none" stroke="#444" stroke-width="0.6"/>
<text x="337.7" y="361.6" font-size="6.51" text-anchor="middle">A</text>
<line x1="318.2" y1="359.4" x2="333" y2="359.4" class="t"/>
<polygon points="317.9,359.4 320.30,358.20 320.30,360.60" fill="#222"/>
<path d="M61.5,348 L130,317.5 L140.5,324 L171.8,452.4 V477.2" class="iso"/>
<path d="M66,351.5 L134.5,321" class="iso"/>
<path d="M61.5,348 L57.8,354 V478.2" class="iso"/>
<path d="M57.8,354 L64,358.5 L61.5,348" class="iso"/>
<path d="M64,358.5 L87.7,456 L95,491.3" class="iso"/>
<path d="M71,353 L98,342" class="iso"/>
<path d="M105.5,338.5 L132,326" class="iso"/>
<path d="M71,353 L92,437.9 L95,450 L102.3,499.8" class="iso"/>
<path d="M98.3,342 V417 L92,437.9" class="iso"/>
<path d="M98,342 L119.1,428.8 V486 L120.5,490" class="iso"/>
<path d="M105.5,338.5 L127,424 Q131,433 146.2,455 L151,477" class="iso"/>
<path d="M132.5,326 V438" class="iso"/>
<path d="M132.5,327 L166.5,471" class="iso"/>
<path d="M66.1,417 V477.1 Q66.5,480 69.5,481.1 L85.9,490.2 Q88.5,490 87.6,486 L79.7,450 L73.3,424.5 Q71,415.5 68,415.5 Q66.1,415.5 66.1,417" class="iso"/>
<path d="M73.5,427.5 V472 Q73.8,474.5 75.2,475.5 L85.4,481.1" class="iso"/>
<path d="M76.3,475.5 L83.7,473.2" class="iso"/>
<path d="M137,385 Q134.5,385 134.5,390 V438 M137,385 Q141,386 142.5,396.3 L156.6,454.5 Q157.5,459.5 154.5,459 L145.5,454.5" class="iso"/>
<path d="M142.5,396.3 V444 Q143,446.5 146,448 L155.5,453.5" class="iso"/>
<path d="M127.8,489.2 L125.6,477.3 L124.8,460 Q124.8,449.6 131,449.6 Q137,450 141,462 L145.5,481" class="iso"/>
<path d="M125.6,477.3 L145.5,488 L171.6,477.2 V470.6 L145.5,481 V488" class="iso"/>
<path d="M58,478.2 L49.7,473 V480.2 L95,507.1 H102.3 L127.8,496 V489.2 L102.3,499.8 L95,491.3" class="iso"/>
<path d="M95,491.3 V507.1" class="iso"/>
<path d="M102.3,499.8 V507.1" class="iso"/>
<path d="M49.7,473 L52.8,471 V468.8 L58,467.3 M52.8,468.8 V464.7 L58,462.1" class="iso"/>
<ellipse cx="84.8" cy="349.5" rx="1.1" ry="1.4" class="iso" transform="rotate(20 84.8 349.5)"/>
<ellipse cx="118.5" cy="334.5" rx="1.1" ry="1.4" class="iso" transform="rotate(20 118.5 334.5)"/>
<ellipse cx="81.5" cy="374" rx="1.1" ry="1.4" class="iso" transform="rotate(20 81.5 374)"/>
<ellipse cx="81.5" cy="384" rx="1.1" ry="1.4" class="iso" transform="rotate(20 81.5 384)"/>
<ellipse cx="124" cy="387" rx="1" ry="1.2" class="iso" transform="rotate(20 124 387)"/>
<ellipse cx="107.4" cy="489" rx="1.3" ry="1.0" class="iso" transform="rotate(20 107.4 489)"/>
<circle cx="43.6" cy="115" r="2.1" class="h"/>
<circle cx="70.4" cy="110" r="2.1" class="h"/>
<circle cx="81.6" cy="110" r="2.1" class="h"/>
<circle cx="132.4" cy="110" r="2.1" class="h"/>
<circle cx="143.6" cy="110" r="2.1" class="h"/>
<circle cx="170" cy="115" r="2.1" class="h"/>
<circle cx="43.6" cy="159.4" r="2.1" class="h"/>
<circle cx="170" cy="159.4" r="2.1" class="h"/>
<circle cx="107" cy="166" r="2.1" class="h"/>
<circle cx="276.5" cy="105.5" r="2.2" class="h"/>
<circle cx="295.5" cy="105.5" r="2.2" class="h"/>
<circle cx="268.5" cy="110" r="2.2" class="h"/>
<circle cx="268.5" cy="164.5" r="2.2" class="h"/>
<circle cx="276.5" cy="169" r="2.2" class="h"/>
<circle cx="295.5" cy="169" r="2.2" class="h"/>
<circle cx="449.9" cy="114.8" r="2.2" class="h"/>
<circle cx="476.3" cy="110.1" r="1.8" class="h"/>
<circle cx="487.6" cy="110.1" r="1.8" class="h"/>
<circle cx="576.1" cy="115" r="2.2" class="h"/>
<circle cx="538.2" cy="110.1" r="1.8" class="h"/>
<circle cx="549.6" cy="110.1" r="1.8" class="h"/>
<circle cx="449.9" cy="159.4" r="2.2" class="h"/>
<circle cx="576.1" cy="159.5" r="2.2" class="h"/>
<circle cx="513" cy="166.4" r="1.5" class="h"/>
<circle cx="657" cy="105.3" r="2.2" class="h"/>
<circle cx="655.4" cy="111.6" r="2" class="h"/>
<circle cx="675.7" cy="105.3" r="2.2" class="h"/>
<circle cx="672.7" cy="110" r="2" class="h"/>
<circle cx="684.3" cy="110" r="2.2" class="h"/>
<circle cx="655.6" cy="162.4" r="2" class="h"/>
<circle cx="672.7" cy="164.4" r="2" class="h"/>
<circle cx="684.4" cy="164.4" r="2.2" class="h"/>
</svg></body></html>
